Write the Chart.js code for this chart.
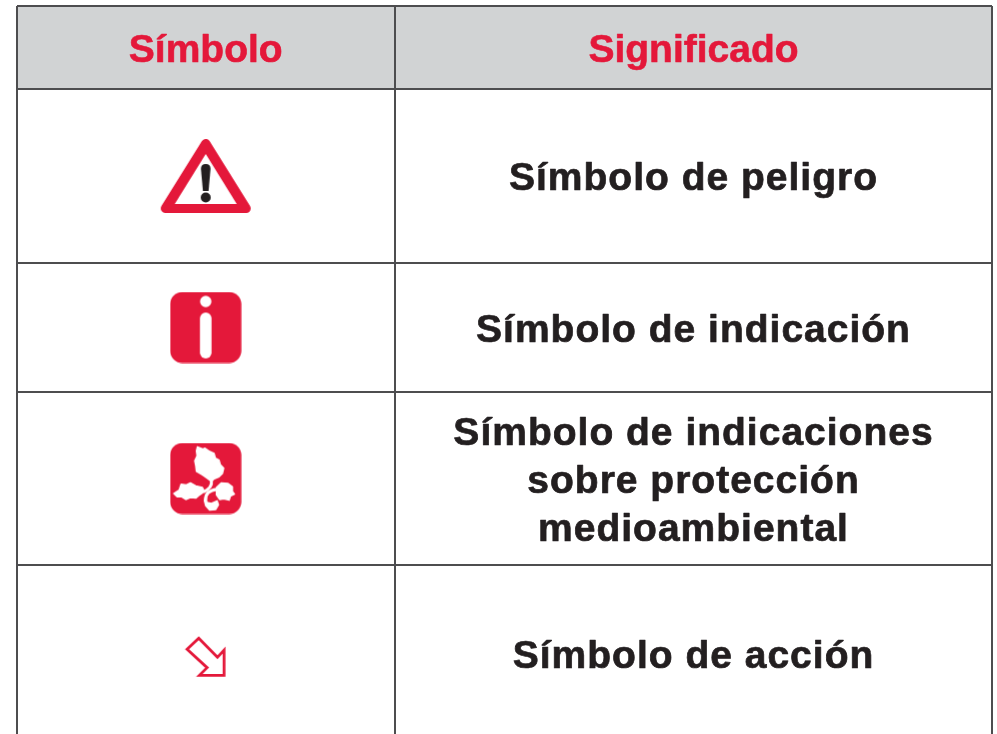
<!DOCTYPE html>
<html lang="es">
<head>
<meta charset="utf-8">
<title>Símbolo y significado</title>
<script src="https://cdn.jsdelivr.net/npm/chart.js@4/dist/chart.umd.min.js"></script>
<style>
html,body{margin:0;padding:0;background:#fff;overflow:hidden}
canvas{display:block}
</style>
</head>
<body>
<canvas id="c" width="997" height="734"></canvas>
<script>
const headers = ["Símbolo", "Significado"];
const meanings = [
  ["Símbolo de peligro"],
  ["Símbolo de indicación"],
  ["Símbolo de indicaciones", "sobre protección", "medioambiental"],
  ["Símbolo de acción"]
];
const symbolNames = ["peligro", "indicacion", "medioambiente", "accion"];
const columnEdges = [16.5, 395, 992];
const rowEdges = [6, 89, 263, 392, 565, 743];
const bottomEdge = 734;

const RED = "#e4183a", DARK = "#231f20", LINE = "#4d4d4f", HEAD = "#d1d3d4";

function rr(ctx, x, y, w, h, r) { ctx.beginPath(); ctx.roundRect(x, y, w, h, r); }
function makeIcon(w, h, draw) {
  const cv = document.createElement("canvas");
  cv.width = w; cv.height = h;
  draw(cv.getContext("2d"));
  return cv;
}
const icons = {
  peligro: makeIcon(96, 78, g => {
    g.translate(48, 39);
    g.fillStyle = RED; g.strokeStyle = RED; g.lineJoin = "round"; g.lineWidth = 9;
    g.beginPath(); g.moveTo(0, -32.5); g.lineTo(-40.5, 32.5); g.lineTo(40.5, 32.5); g.closePath();
    g.fill(); g.stroke();
    g.fillStyle = "#fff";
    g.beginPath(); g.moveTo(0, -22); g.lineTo(-31, 28); g.lineTo(31, 28); g.closePath(); g.fill();
    g.fillStyle = DARK;
    g.beginPath(); g.moveTo(-4.8, -7); g.quadraticCurveTo(-4.8, -12, 0, -12);
    g.quadraticCurveTo(4.8, -12, 4.8, -7); g.lineTo(2.8, 15); g.lineTo(-2.8, 15); g.closePath(); g.fill();
    g.beginPath(); g.arc(0, 21.5, 5, 0, Math.PI * 2); g.fill();
  }),
  indicacion: makeIcon(72, 72, g => {
    g.fillStyle = RED; rr(g, 0.5, 0.5, 71, 71, 12); g.fill();
    g.fillStyle = "#fff";
    g.beginPath(); g.arc(36, 10, 5.7, 0, Math.PI * 2); g.fill();
    rr(g, 30.2, 21, 11.6, 46, 5.8); g.fill();
  }),
  medioambiente: makeIcon(72, 72, g => {
    g.fillStyle = RED; rr(g, 0.5, 0.5, 71, 71, 12); g.fill();
    g.fillStyle = "#fff"; g.strokeStyle = "#fff"; g.lineJoin = "round";
    const S = (x, y) => [(x-30)/3, (y-25)/3];
    const P = pts => { g.lineWidth = 1.4; g.beginPath(); pts.forEach((p, i) => i ? g.lineTo(...S(p[0], p[1])) : g.moveTo(...S(p[0], p[1]))); g.closePath(); g.fill(); g.stroke(); };
    P([[113,38],[130,45],[135,42],[150,52],[163,58],[167,72],[178,78],[182,92],[192,102],[188,118],[178,128],[162,135],[155,142],[142,132],[128,122],[110,112],[108,95],[105,80],[112,65],[110,50]]);
    P([[42,178],[58,168],[64,150],[80,152],[92,146],[108,155],[128,160],[134,172],[120,182],[108,192],[92,190],[78,196],[66,188],[52,188]]);
    P([[170,160],[185,146],[205,148],[218,158],[218,172],[224,180],[212,186],[208,198],[192,194],[180,196],[170,182]]);
    g.lineCap = "round"; g.lineWidth = 3;
    g.beginPath(); g.moveTo(...S(155,140)); g.quadraticCurveTo(...S(158,160), ...S(134,172)); g.stroke();
    g.beginPath(); g.moveTo(...S(172,165)); g.quadraticCurveTo(...S(135,170), ...S(138,198)); g.stroke();
    P([[136,190],[142,205],[155,208],[172,200],[176,212],[168,226],[150,228],[138,215],[134,200]]);
  }),
  accion: makeIcon(44, 44, g => {
    g.translate(22, 22);
    g.strokeStyle = RED; g.lineWidth = 2.8; g.lineJoin = "miter";
    const T = (x, y) => [(x - 93) / 3, (y - 83) / 3];
    g.beginPath();
    g.moveTo(...T(37,60)); g.lineTo(...T(72,27)); g.lineTo(...T(128,84)); g.lineTo(...T(148,62));
    g.lineTo(...T(148,138)); g.lineTo(...T(74,138)); g.lineTo(...T(97,115)); g.closePath();
    g.stroke();
  })
};

const midX0 = (columnEdges[0] + columnEdges[1]) / 2;
const rowMid = i => (rowEdges[i + 1] + rowEdges[i + 2]) / 2;
const iconPoints = symbolNames.map((n, i) => ({ x: midX0, y: rowMid(i) + (n === "accion" ? 3 : 0) }));

const tablePlugin = {
  id: "tablePlugin",
  beforeDraw(chart) {
    const { ctx, scales: { x, y } } = chart;
    ctx.save();
    ctx.fillStyle = HEAD;
    ctx.fillRect(x.getPixelForValue(columnEdges[0]), y.getPixelForValue(rowEdges[0]),
      x.getPixelForValue(columnEdges[2]) - x.getPixelForValue(columnEdges[0]),
      y.getPixelForValue(rowEdges[1]) - y.getPixelForValue(rowEdges[0]));
    ctx.restore();
  },
  afterDatasetsDraw(chart) {
    const { ctx, scales: { x, y } } = chart;
    ctx.save();
    ctx.textAlign = "center"; ctx.textBaseline = "alphabetic"; ctx.lineJoin = "round";
    const cx = [midX0, (columnEdges[1] + columnEdges[2]) / 2];
    ctx.fillStyle = RED; ctx.strokeStyle = RED; ctx.lineWidth = 0.6;
    ctx.font = 'bold 39px "Liberation Sans", Arial, sans-serif';
    ctx.letterSpacing = "0px";
    headers.forEach((h, i) => {
      ctx.fillText(h, x.getPixelForValue(cx[i]), y.getPixelForValue(62));
      ctx.strokeText(h, x.getPixelForValue(cx[i]), y.getPixelForValue(62));
    });
    ctx.fillStyle = DARK; ctx.strokeStyle = DARK; ctx.lineWidth = 0.7;
    ctx.letterSpacing = "1px";
    const lh = 48;
    meanings.forEach((lines, i) => {
      const c = rowMid(i);
      lines.forEach((t, k) => {
        const yy = y.getPixelForValue(c + (k - (lines.length - 1) / 2) * lh + 14);
        ctx.fillText(t, x.getPixelForValue(cx[1]), yy);
        ctx.strokeText(t, x.getPixelForValue(cx[1]), yy);
      });
    });
    ctx.restore();
  }
};

const flatX = a => { a.height = 0; a.paddingLeft = a.paddingRight = a.paddingTop = a.paddingBottom = 0; };
const flatY = a => { a.width = 0; a.paddingLeft = a.paddingRight = a.paddingTop = a.paddingBottom = 0; };

new Chart(document.getElementById("c"), {
  type: "scatter",
  data: {
    datasets: [{
      data: iconPoints,
      pointStyle: symbolNames.map(n => icons[n]),
      pointRadius: 20,
      clip: false
    }]
  },
  plugins: [tablePlugin],
  options: {
    responsive: false,
    animation: false,
    devicePixelRatio: 1,
    events: [],
    layout: { autoPadding: false, padding: { left: columnEdges[0], right: 997 - columnEdges[2], top: rowEdges[0], bottom: 0 } },
    plugins: { legend: { display: false }, tooltip: { enabled: false }, title: { display: false } },
    scales: {
      x: {
        type: "linear", min: columnEdges[0], max: columnEdges[2],
        afterBuildTicks: a => { a.ticks = columnEdges.map(v => ({ value: v })); },
        afterFit: flatX,
        ticks: { display: false, padding: 0 },
        border: { display: false },
        grid: { color: LINE, lineWidth: 2, drawTicks: false, tickLength: 0 }
      },
      y: {
        type: "linear", reverse: true, min: rowEdges[0], max: bottomEdge,
        afterBuildTicks: a => { a.ticks = rowEdges.slice(0, 5).map(v => ({ value: v })); },
        afterFit: flatY,
        ticks: { display: false, padding: 0 },
        border: { display: false },
        grid: { color: LINE, lineWidth: 2, drawTicks: false, tickLength: 0 }
      }
    }
  }
});
</script>
</body>
</html>
